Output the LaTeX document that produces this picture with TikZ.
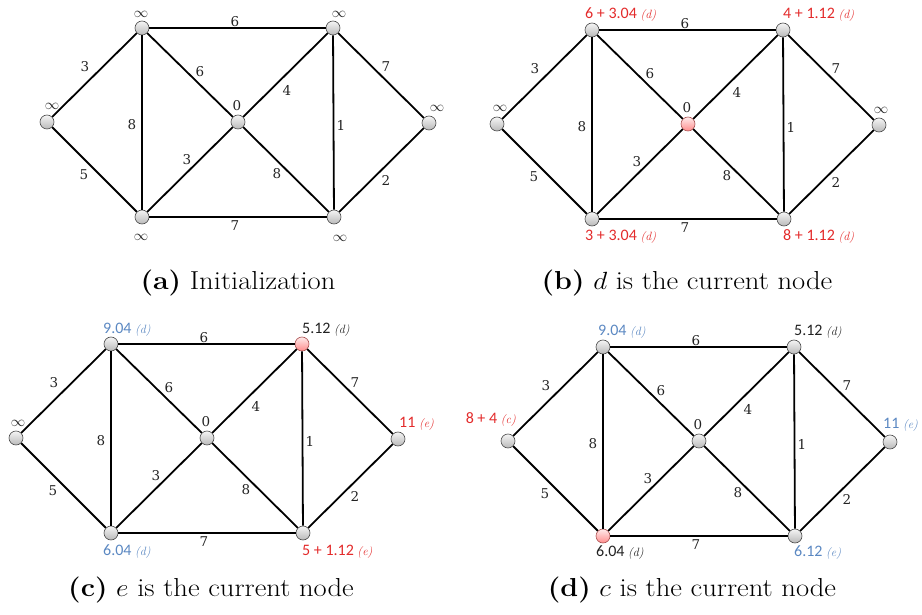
\documentclass[tikz,border=0pt]{standalone}
\usepackage{fontspec}
\newfontfamily\calibfont{Carlito}
\newfontfamily\wtfont{DejaVu Serif}
\definecolor{dred}{HTML}{E32B2B}
\definecolor{dblue}{HTML}{5B88C2}
\definecolor{dtext}{HTML}{222222}
\newcommand\viaof[1]{{\fontsize{12}{13}\selectfont\rmfamily\itshape(#1)}}
\tikzset{
  vtx/.style={circle, minimum size=14pt, inner sep=0pt, draw=gray!60!black, line width=0.6pt,
    top color=gray!8, bottom color=gray!55},
  vtxcur/.style={top color=red!8, bottom color=red!45, draw=red!35!gray},
  edge/.style={line width=1.8pt, black},
  wt/.style={font=\wtfont\fontsize{13.5}{15}\selectfont, text=dtext, inner sep=0pt},
  inflbl/.style={font=\fontsize{14}{16}\selectfont, text=dtext, inner sep=0pt},
  dist/.style={font=\calibfont\fontsize{16}{18}\selectfont, inner sep=0pt, anchor=west},
  capt/.style={font=\fontsize{26}{30}\selectfont, inner sep=0pt},
}
\newcommand\captext[1]{\scalebox{1.1}[1]{#1}}
\newcommand\drawgraph[1]{%
  \node[vtx,h#1-l/.try]  (#1-l)  at (-191,0) {};
  \node[vtx,h#1-tl/.try] (#1-tl) at (-96,-94) {};
  \node[vtx,h#1-tr/.try] (#1-tr) at (95,-94) {};
  \node[vtx,h#1-c/.try]  (#1-c)  at (0,0) {};
  \node[vtx,h#1-r/.try]  (#1-r)  at (191,1) {};
  \node[vtx,h#1-bl/.try] (#1-bl) at (-96,95) {};
  \node[vtx,h#1-br/.try] (#1-br) at (96,95) {};
  \draw[edge] (#1-l) -- (#1-tl);
  \draw[edge] (#1-l) -- (#1-bl);
  \draw[edge] (#1-tl) -- (#1-tr);
  \draw[edge] (#1-tl) -- (#1-c);
  \draw[edge] (#1-tl) -- (#1-bl);
  \draw[edge] (#1-tr) -- (#1-c);
  \draw[edge] (#1-tr) -- (#1-r);
  \draw[edge] (#1-tr) -- (#1-br);
  \draw[edge] (#1-c) -- (#1-bl);
  \draw[edge] (#1-c) -- (#1-br);
  \draw[edge] (#1-bl) -- (#1-br);
  \draw[edge] (#1-br) -- (#1-r);
  \node[wt] (#1-w1)  at (-153,-55) {3};
  \node[wt] (#1-w2)  at (-3,-100) {6};
  \node[wt] (#1-w3)  at (-38,-50) {6};
  \node[wt] (#1-w4)  at (49,-32) {4};
  \node[wt] (#1-w5)  at (148,-55) {7};
  \node[wt] (#1-w6)  at (-1,-16) {0};
  \node[wt] (#1-w7)  at (-106,3) {8};
  \node[wt] (#1-w8)  at (103,3) {1};
  \node[wt] (#1-w9)  at (-51,38) {3};
  \node[wt] (#1-w10) at (39,52) {8};
  \node[wt] (#1-w11) at (-154,53) {5};
  \node[wt] (#1-w12) at (148,58) {2};
  \node[wt] (#1-w13) at (-3,104) {7};
}
\tikzset{hb-c/.style={vtxcur}, hc-tr/.style={vtxcur}, hd-bl/.style={vtxcur}}
\begin{document}
\begin{tikzpicture}[x=1pt,y=-1pt]
\useasboundingbox (0,0) rectangle (922,615);
% (a)
\begin{scope}[shift={(238,122)}]
  \drawgraph{a}
  \node[inflbl] (a-i1) at (-97,-108) {$\infty$};
  \node[inflbl] (a-i2) at (101,-108) {$\infty$};
  \node[inflbl] (a-i3) at (-186,-16) {$\infty$};
  \node[inflbl] (a-i4) at (199,-14) {$\infty$};
  \node[inflbl] (a-i5) at (-97,115) {$\infty$};
  \node[inflbl] (a-i6) at (102,116) {$\infty$};
\end{scope}
\node[capt] (capa) at (238,283) {\captext{\textbf{(a)} Initialization}};
% (b)
\begin{scope}[shift={(688,124)}]
  \drawgraph{b}
  \node[dist,text=dred] (b-d1) at (-103,-109) {6 + 3.04 \viaof{d}};
  \node[dist,text=dred] (b-d2) at (95,-109) {4 + 1.12 \viaof{d}};
  \node[dist,text=dred] (b-d3) at (-103,113) {3 + 3.04 \viaof{d}};
  \node[dist,text=dred] (b-d4) at (95,113) {8 + 1.12 \viaof{d}};
  \node[inflbl] (b-i3) at (-188,-16) {$\infty$};
  \node[inflbl] (b-i4) at (193,-14) {$\infty$};
\end{scope}
\node[capt] (capb) at (687,283) {\captext{\textbf{(b)} $d$ is the current node}};
% (c)
\begin{scope}[shift={(207,438)}]
  \drawgraph{c}
  \node[dist,text=dblue] (c-d1) at (-104,-108) {9.04 \viaof{d}};
  \node[dist,text=dtext] (c-d2) at (95,-108) {5.12 \viaof{d}};
  \node[dist,text=dblue] (c-d3) at (-104,114) {6.04 \viaof{d}};
  \node[dist,text=dred] (c-d4) at (95,114) {5 + 1.12 \viaof{e}};
  \node[dist,text=dred] (c-d5) at (192,-14) {11 \viaof{e}};
  \node[inflbl] (c-i3) at (-189,-15) {$\infty$};
\end{scope}
\node[capt] (capc) at (211,590) {\captext{\textbf{(c)} $e$ is the current node}};
% (d)
\begin{scope}[shift={(699,441)}]
  \drawgraph{d}
  \node[dist,text=dblue] (d-d1) at (-101,-109) {9.04 \viaof{d}};
  \node[dist,text=dtext] (d-d2) at (95,-109) {5.12 \viaof{d}};
  \node[dist,text=dtext] (d-d3) at (-103,112) {6.04 \viaof{d}};
  \node[dist,text=dblue] (d-d4) at (95,112) {6.12 \viaof{e}};
  \node[dist,text=dblue] (d-d5) at (184,-16) {11 \viaof{e}};
  \node[dist,text=dred,anchor=east] (d-d6) at (-183,-21) {8 + 4 \viaof{c}};
\end{scope}
\node[capt] (capd) at (692,590) {\captext{\textbf{(d)} $c$ is the current node}};
\end{tikzpicture}
\end{document}
